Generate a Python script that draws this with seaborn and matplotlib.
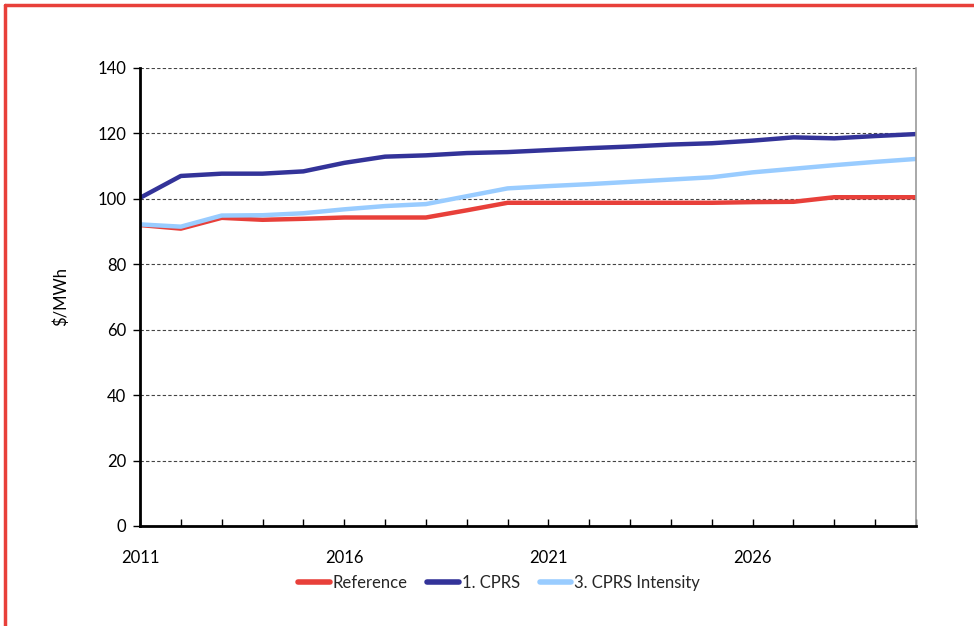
import matplotlib
matplotlib.use("Agg")
import matplotlib.pyplot as plt
from matplotlib.lines import Line2D
import seaborn as sns
import pandas as pd

years = list(range(2011, 2031))
reference = [92.0, 90.9, 94.2, 93.6, 93.9, 94.3, 94.3, 94.3, 96.5, 98.8,
             98.8, 98.8, 98.8, 98.8, 98.8, 99.0, 99.1, 100.5, 100.5, 100.5]
cprs = [100.3, 107.0, 107.7, 107.7, 108.4, 111.0, 112.9, 113.3, 114.0, 114.3,
        114.9, 115.5, 116.0, 116.6, 117.0, 117.8, 118.8, 118.5, 119.2, 119.8]
cprs_intensity = [92.2, 91.5, 94.9, 95.0, 95.6, 96.8, 97.8, 98.4, 100.8, 103.2,
                  103.9, 104.5, 105.2, 105.9, 106.6, 108.1, 109.2, 110.3, 111.3, 112.2]

series_names = ["Reference", "1. CPRS", "3. CPRS Intensity"]
series_colors = ["#E8403A", "#333399", "#99CCFF"]
x_labels = ["2011", "2016", "2021", "2026"]
y_ticks = [0, 20, 40, 60, 80, 100, 120, 140]

df = pd.DataFrame({
    "year": years * 3,
    "value": reference + cprs + cprs_intensity,
    "series": [series_names[0]] * len(years) + [series_names[1]] * len(years)
              + [series_names[2]] * len(years),
})

sns.set_theme(style="white")
plt.rcParams["font.family"] = ["Lato", "DejaVu Sans"]

fig = plt.figure(figsize=(9.74, 6.26), dpi=100)
ax = fig.add_axes([140 / 974, 100 / 626, 776 / 974, 458 / 626])

sns.lineplot(data=df, x="year", y="value", hue="series",
             palette=dict(zip(series_names, series_colors)),
             hue_order=series_names, linewidth=3.2, ax=ax, legend=False)

ax.set_xlim(2011, 2030)
ax.set_ylim(0, 140)
ax.set_yticks(y_ticks)
ax.set_xticks(years)
ax.set_xticklabels([str(y) if str(y) in x_labels else "" for y in years])
ax.set_xlabel("")
ax.set_ylabel("$/MWh", fontsize=12, labelpad=20, color="black")

ax.yaxis.grid(True, linestyle=(0, (3, 2)), color="#444444", linewidth=0.8)
ax.xaxis.grid(False)
ax.tick_params(axis="y", direction="out", length=5, width=1, color="black",
               labelsize=12, pad=5, left=True, labelcolor="black")
ax.tick_params(axis="x", direction="in", length=5, width=1, color="black",
               labelsize=12, pad=17, bottom=True, labelcolor="black")

for side in ("left", "bottom"):
    ax.spines[side].set_color("black")
    ax.spines[side].set_linewidth(2)
ax.spines["top"].set_visible(False)
ax.spines["right"].set_color("#999999")
ax.spines["right"].set_linewidth(1.2)
ax.set_axisbelow(True)

handles = [Line2D([0], [0], color=c, linewidth=4) for c in series_colors]
ax.legend(handles, series_names, loc="center", bbox_to_anchor=(0.4626, -57 / 458),
          ncol=3, frameon=False, fontsize=12, handlelength=1.9,
          handletextpad=0.15, columnspacing=1.2)

# red frame around the chart
fig.add_artist(Line2D([5 / 974, 1.0], [1 - 5 / 626, 1 - 5 / 626],
                      transform=fig.transFigure, color="#E8403A", linewidth=2.5))
fig.add_artist(Line2D([5 / 974, 5 / 974], [0, 1 - 5 / 626],
                      transform=fig.transFigure, color="#E8403A", linewidth=2.5))

fig.savefig("out.png", dpi=100)
